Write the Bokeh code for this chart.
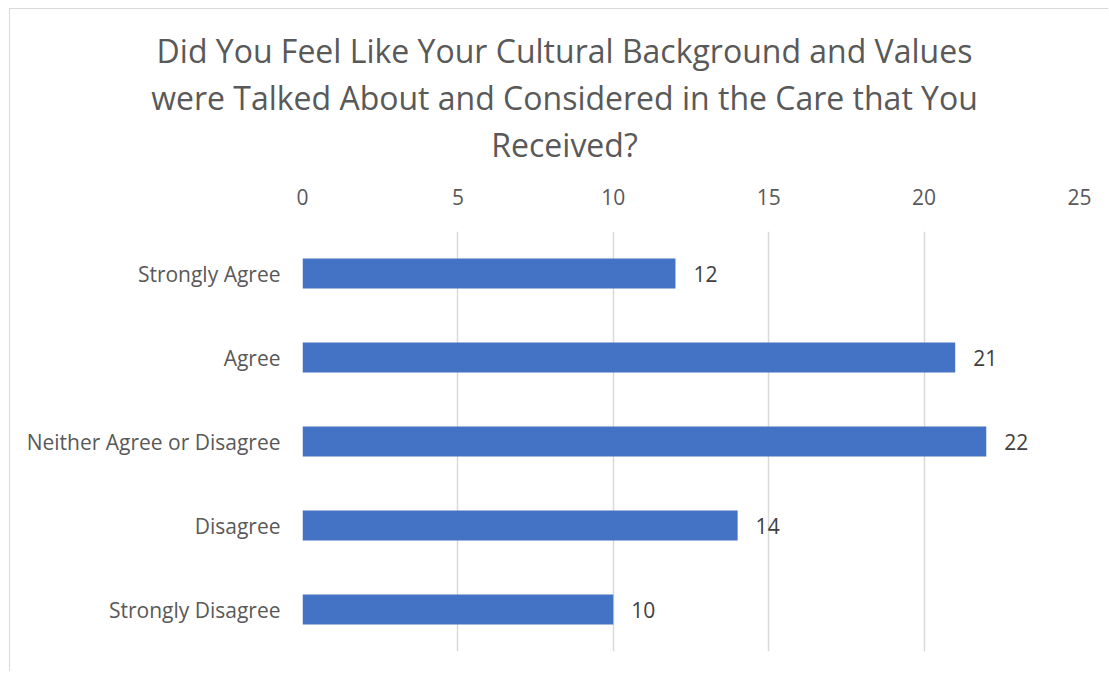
from bokeh.plotting import figure
from bokeh.models import Range1d, FactorRange, FixedTicker, ColumnDataSource
from bokeh.layouts import column
from bokeh.embed import file_html
from bokeh.resources import INLINE
from bokeh.core.properties import value

title_lines = ["Did You Feel Like Your Cultural Background and Values",
               "were Talked About and Considered in the Care that You",
               "Received?"]
categories = ["Strongly Agree", "Agree", "Neither Agree or Disagree", "Disagree", "Strongly Disagree"]
counts = [12, 21, 22, 14, 10]
x_ticks = [0, 5, 10, 15, 20, 25]

FONT = "Open Sans"
TXT = "#595959"
BORDER = "1px solid #d9d9d9"

W = 1099
TH = 166

# ---- title strip (full width so the title can be centred on the whole chart) ----
t = figure(width=W, height=TH, output_backend="svg", toolbar_location=None,
           x_range=Range1d(0, W), y_range=Range1d(0, TH),
           x_axis_type=None, y_axis_type=None,
           min_border=0, min_border_left=0, min_border_right=0, min_border_top=0, min_border_bottom=0,
           styles={"border-left": BORDER, "border-top": BORDER})
t.outline_line_color = None
t.grid.visible = False
cx = 554
line_gap = 46.6
first_base = 124.7
tsrc = ColumnDataSource(dict(x=[cx] * len(title_lines),
                             y=[first_base - line_gap * i for i in range(len(title_lines))],
                             txt=title_lines))
t.text(x="x", y="y", text="txt", source=tsrc, text_align="center", text_baseline="alphabetic",
       text_font=value(FONT), text_font_size="32px", text_color=TXT)

# ---- bar chart ----
src = ColumnDataSource(dict(cat=categories, n=counts, lbl=[str(v) for v in counts]))

p = figure(width=W, height=497, output_backend="svg", toolbar_location=None,
           y_range=FactorRange(factors=list(reversed(categories))),
           x_range=Range1d(0, 25), x_axis_location="above",
           min_border_left=292, min_border_right=30, min_border_top=57, min_border_bottom=20,
           styles={"border-left": BORDER})
p.outline_line_color = None

p.hbar(y="cat", right="n", left=0, height=0.357, source=src, color="#4472C4", line_color=None)
p.text(x="n", y="cat", text="lbl", source=src, x_offset=18, text_baseline="middle",
       text_align="left", text_font=value(FONT), text_font_size="21px", text_color="#404040")

p.xaxis.ticker = FixedTicker(ticks=x_ticks)
p.xaxis.axis_line_color = None
p.xaxis.major_tick_line_color = None
p.xaxis.minor_tick_line_color = None
p.xaxis.major_label_text_font = FONT
p.xaxis.major_label_text_font_size = "21px"
p.xaxis.major_label_text_color = TXT
p.xaxis.major_label_standoff = 21

p.yaxis.axis_line_color = None
p.yaxis.major_tick_line_color = None
p.yaxis.minor_tick_line_color = None
p.yaxis.major_label_text_font = FONT
p.yaxis.major_label_text_font_size = "21px"
p.yaxis.major_label_text_color = TXT
p.yaxis.major_label_standoff = 16

p.ygrid.grid_line_color = None
p.xgrid.grid_line_color = "#d9d9d9"
p.xgrid.grid_line_width = 1.5

# keep the title strip's frame independent of the chart's frame
for fig in (t, p):
    if "frame_align" in fig.properties():
        fig.frame_align = False

layout = column(t, p, spacing=0, margin=(8, 0, 0, 9))

open("out.html", "w").write(file_html(layout, INLINE))
